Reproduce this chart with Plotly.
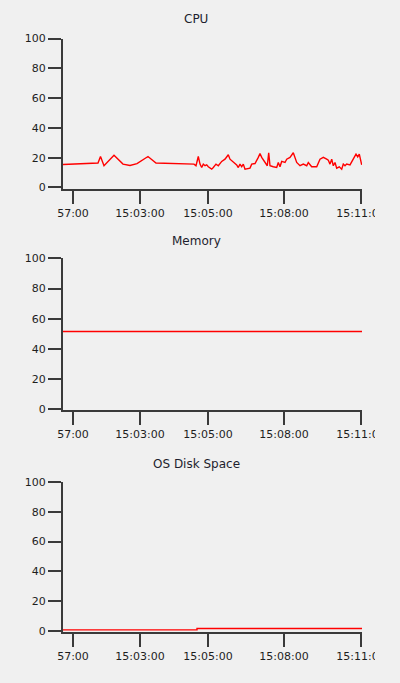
import plotly.graph_objects as go
from plotly.subplots import make_subplots

# sample positions along the (index-based) time axis
cpu_x = [0, 35, 37.5, 41, 51, 60, 67, 74, 85, 93, 131, 133, 135.3, 137, 138.7, 140.3, 142, 143.7, 145.3,
         148.7, 150.3, 153, 155.3, 158.7, 162, 165.3, 167, 170.3, 173.7, 175.3, 177, 178.7,
         180.3, 182, 187, 188.7, 192, 195.3, 197, 198.7, 202, 204.3, 205.7, 207, 210.3, 213.7,
         215.3, 217, 218.7, 222, 223.7, 227, 230.3, 233.7, 237, 240.3, 243.7, 245.3, 248.7,
         253.7, 257, 260.3, 263.7, 265.3, 267, 268.7, 270.3, 272, 273.7, 276.3, 278.7, 280.3,
         282, 283.7, 287, 290.3, 293, 294.7, 296.3, 298.7]
cpu_y = [15.4, 16.4, 20.8, 14.6, 21.7, 15.7, 14.8, 16.0, 20.8, 16.4, 15.7, 14.6, 20.8, 15.7, 13.4,
         15.7, 14.6, 15.2, 13.9, 12.3, 13.4, 15.7, 14.6, 17.5, 19.0, 22.0, 19.0, 16.8, 15.2,
         13.4, 15.7, 13.9, 15.7, 12.3, 13.0, 15.7, 16.1, 20.2, 22.8, 20.2, 16.8, 14.6, 23.3,
         14.6, 13.9, 13.4, 16.8, 13.9, 17.5, 16.8, 19.0, 20.2, 23.3, 16.8, 14.6, 15.7, 14.6,
         16.8, 13.9, 13.9, 19.0, 20.2, 19.0, 18.3, 15.7, 19.0, 14.6, 16.8, 13.0, 13.9, 12.3,
         15.7, 14.6, 15.7, 15.2, 19.0, 22.4, 20.6, 22.4, 15.2]

mem_x = [0, 299]
mem_y = [51.5, 51.5]

disk_x = [0, 134, 134, 299]
disk_y = [0.8, 0.8, 1.7, 1.7]

tick_pos = [10, 77, 145, 221, 298]
tick_labels = ["57:00", "15:03:00", "15:05:00", "15:08:00", "15:11:00"]
y_ticks = [0, 20, 40, 60, 80, 100]
titles = ["CPU", "Memory", "OS Disk Space"]

H = 683
W = 400
# pixel extents of each panel (top, bottom), title centres
panels = [(33.1, 185.8), (256.9, 411.5), (484.5, 637.3)]
title_y = [13.0, 239.1, 466.2]

fig = make_subplots(rows=3, cols=1)
series = [(cpu_x, cpu_y), (mem_x, mem_y), (disk_x, disk_y)]
for i, (xs, ys) in enumerate(series, start=1):
    fig.add_trace(go.Scatter(x=xs, y=ys, mode="lines",
                             line=dict(color="#ff0000", width=1.4),
                             showlegend=False, hoverinfo="skip"), row=i, col=1)

BG = "#f0f0f0"
axcol = "#3a3a3a"
font = dict(family="DejaVu Sans", size=11, color="#1e1e1e")

layout = dict(
    width=W, height=H, autosize=False, paper_bgcolor=BG, plot_bgcolor=BG,
    margin=dict(l=63, r=38, t=0, b=0),
    showlegend=False,
)
for i, (top, bot) in enumerate(panels, start=1):
    sx = "" if i == 1 else str(i)
    layout["xaxis" + sx] = dict(
        domain=[0, 1], range=[0, 299], tickmode="array", tickvals=tick_pos,
        ticktext=tick_labels, ticks="outside", ticklen=13, tickwidth=2,
        tickcolor=axcol, showline=True, linecolor=axcol, linewidth=2,
        showgrid=False, zeroline=False, tickfont=font, fixedrange=True,
    )
    layout["yaxis" + sx] = dict(
        domain=[1 - bot / H, 1 - top / H], range=[-0.7, 100], tickmode="array",
        tickvals=y_ticks, ticks="outside", ticklen=13, tickwidth=2, tickcolor=axcol,
        showline=True, linecolor=axcol, linewidth=2, showgrid=False, zeroline=False,
        tickfont=font, fixedrange=True,
    )
fig.update_layout(**layout)

for t, ty in zip(titles, title_y):
    fig.add_annotation(text=t, xref="paper", yref="paper", x=(196 - 63) / 299,
                       y=1 - ty / H, xanchor="center", yanchor="middle",
                       showarrow=False, font=dict(family="DejaVu Sans", size=12, color="#1e1e2e"))

# clip region at the right edge (control is clipped)
fig.add_shape(type="rect", xref="paper", yref="paper",
              x0=(375 - 63) / 299, x1=(W - 63) / 299 + 0.05, y0=0, y1=1,
              fillcolor=BG, line=dict(width=0), layer="above")

fig.write_html("out.html", config={"responsive": False, "displayModeBar": False},
               post_script="document.body.style.margin='0';document.body.style.overflow='hidden';")
